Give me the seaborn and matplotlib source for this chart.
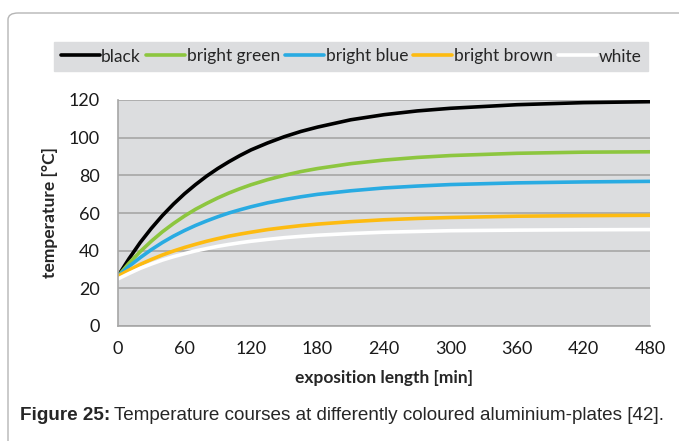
import matplotlib; matplotlib.use('Agg')
import matplotlib.pyplot as plt
from matplotlib.patches import FancyBboxPatch
import pandas as pd
import seaborn as sns

# ── Data ──────────────────────────────────────────────────────────
minutes = [0, 10, 20, 30, 40, 50, 60, 70, 80, 90, 100, 110, 120,
           135, 150, 165, 180, 210, 240, 270, 300, 360, 420, 480]
black        = [26.5, 35.8, 44.3, 51.8, 58.6, 64.7, 70.2, 75.1, 79.6, 83.6, 87.2, 90.5, 93.5,
                97.2, 100.5, 103.3, 105.6, 109.5, 112.2, 114.2, 115.6, 117.5, 118.6, 119.1]
bright_green = [26.5, 33.4, 39.5, 45.0, 50.0, 54.4, 58.4, 62.0, 65.1, 68.0, 70.6, 72.9, 75.0,
                77.7, 80.0, 82.0, 83.6, 86.2, 88.1, 89.5, 90.5, 91.7, 92.3, 92.5]
bright_blue  = [26.5, 31.7, 36.3, 40.5, 44.3, 47.7, 50.7, 53.4, 55.8, 58.0, 60.0, 61.7, 63.3,
                65.4, 67.1, 68.6, 69.9, 71.8, 73.3, 74.3, 75.1, 76.0, 76.5, 76.8]
bright_brown = [26.5, 29.7, 32.7, 35.3, 37.7, 39.8, 41.7, 43.4, 45.0, 46.4, 47.7, 48.8, 49.8,
                51.2, 52.3, 53.3, 54.1, 55.4, 56.4, 57.1, 57.6, 58.3, 58.6, 58.8]
white        = [25.0, 27.9, 30.6, 32.9, 35.0, 36.8, 38.4, 39.9, 41.1, 42.3, 43.3, 44.2, 45.0,
                46.0, 46.9, 47.6, 48.2, 49.1, 49.8, 50.2, 50.6, 50.9, 51.1, 51.2]

series_names = ['black', 'bright green', 'bright blue', 'bright brown', 'white']
series_vals  = [black, bright_green, bright_blue, bright_brown, white]
colors       = ['#000000', '#8dc63f', '#29abe2', '#fdbb11', '#ffffff']
x_ticks = [0, 60, 120, 180, 240, 300, 360, 420, 480]
y_ticks = [0, 20, 40, 60, 80, 100, 120]

df = pd.concat([pd.DataFrame({'t': minutes, 'T': v, 'plate': n})
                for n, v in zip(series_names, series_vals)], ignore_index=True)

# ── Figure ────────────────────────────────────────────────────────
sns.set_theme(style='white')
plt.rcParams['font.family'] = ['Lato', 'DejaVu Sans']
GRID = '#a6a6a6'
BG = '#dcdddf'

fig = plt.figure(figsize=(6.79, 4.41), dpi=100)
frame = FancyBboxPatch((8/679, -0.2), 1.2, (441-13)/441 + 0.2,
                       boxstyle='round,pad=0,rounding_size=0.015',
                       transform=fig.transFigure, facecolor='none',
                       edgecolor='#b5b5b5', linewidth=1.0)
fig.patches.append(frame)

ax = fig.add_axes([118/679, (441-326)/441, (650-118)/679, (326-100)/441])
ax.set_facecolor(BG)
sns.lineplot(data=df, x='t', y='T', hue='plate', hue_order=series_names,
             palette=colors, linewidth=2.6, ax=ax, legend=False)
for ln in ax.lines:
    ln.set_solid_joinstyle('round'); ln.set_solid_capstyle('butt')

ax.set_xlim(0, 480); ax.set_ylim(0, 120)
ax.set_xticks(x_ticks); ax.set_yticks(y_ticks)
ax.yaxis.grid(True, color=GRID, linewidth=1.2)
ax.set_axisbelow(True)
for s in ['top', 'right']:
    ax.spines[s].set_visible(False)
for s in ['left', 'bottom']:
    ax.spines[s].set_color(GRID); ax.spines[s].set_linewidth(1.2)
ax.tick_params(axis='both', direction='out', length=5, width=1.2, color=GRID,
               labelsize=13, labelcolor='#1a1a1a', pad=6)
ax.tick_params(axis='y', pad=8)
ax.set_xlabel('exposition length [min]', fontsize=12.5, fontweight='bold', labelpad=9)
ax.set_ylabel('temperature [°C]', fontsize=12.5, fontweight='bold', labelpad=8)

# legend
handles = [plt.Line2D([], [], color=c, linewidth=2.6) for c in colors]
leg = fig.legend(handles, series_names, loc='center', ncol=5,
                 bbox_to_anchor=(351/679, 1 - 56.5/441), frameon=True,
                 fancybox=False, facecolor=BG, edgecolor=BG, framealpha=1,
                 fontsize=12.5, handlelength=2.25, handletextpad=0.08,
                 columnspacing=0.3, borderpad=0.4)

# caption
cap = fig.text(20/679, 1 - 415/441, 'Figure 25:', fontsize=13.6, fontweight='bold',
               family='Liberation Sans', va='center')
fig.canvas.draw()
ext = cap.get_window_extent()
fig.text(ext.x1 / 679 + 4/679, 1 - 415/441,
         'Temperature courses at differently coloured aluminium-plates [42].',
         fontsize=13.6, family='Liberation Sans', va='center')

fig.savefig('out.png', dpi=100)
